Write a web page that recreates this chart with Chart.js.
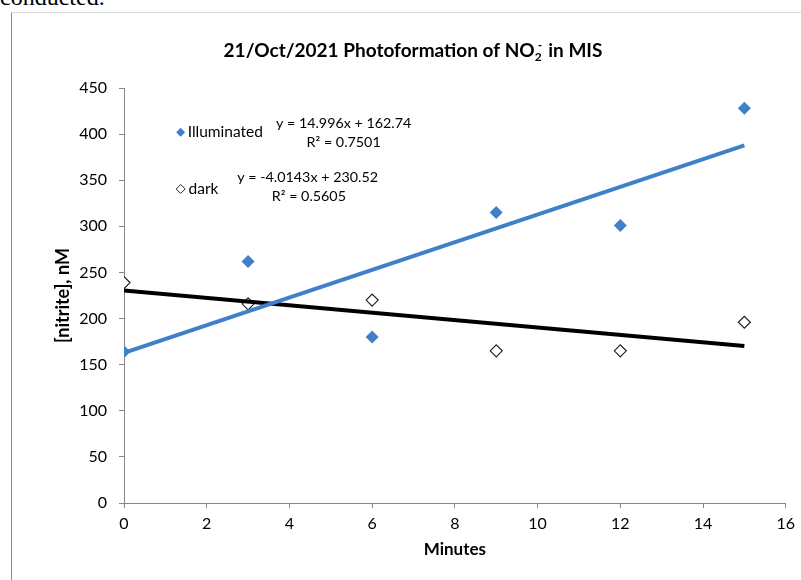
<!DOCTYPE html>
<html>
<head>
<meta charset="utf-8">
<script src="https://cdn.jsdelivr.net/npm/chart.js@4.4.0/dist/chart.umd.min.js"></script>
<style>
  html, body { margin: 0; padding: 0; background: #fff; overflow: hidden; }
  body { width: 801px; height: 580px; position: relative; }
  #above {
    position: absolute; left: 0; top: -15px;
    font: 24px/24px "Liberation Serif", "Times New Roman", serif; color: #000;
  }
  #frame {
    position: absolute; left: 11px; top: 12px; width: 820px; height: 600px;
    border-top: 1px solid #d9d9d9; border-left: 1px solid #8c8c8c;
  }
  #chart { position: absolute; left: 12px; top: 13px; }
</style>
</head>
<body>
<div id="above">conducted.</div>
<div id="frame"></div>
<canvas id="chart" width="789" height="567"></canvas>
<script>
// measured values
const minutes = [0, 3, 6, 9, 12, 15];
const illuminated = [164, 262, 180, 315, 301, 428];
const dark = [239, 216, 220, 165, 165, 196];

// linear trendline ends (Excel fit)
const trendX = [0, 15];
const illumTrend = [162.74, 387.68];
const darkTrend = [230.52, 170.30];

const xTicks = [0, 2, 4, 6, 8, 10, 12, 14, 16];
const yTicks = [0, 50, 100, 150, 200, 250, 300, 350, 400, 450];

const blue = '#4180c8';
const axisGrey = '#868686';
const FONT = 'Lato, "Open Sans", sans-serif';

const toPts = (xs, ys) => xs.map((x, i) => ({ x: x, y: ys[i] }));

// title, legend box and trendline labels, Excel style
const labelsPlugin = {
  id: 'labels',
  afterDraw(chart) {
    const ctx = chart.ctx;
    const sx = chart.scales.x, sy = chart.scales.y;
    const px = v => sx.getPixelForValue(v);
    const py = v => sy.getPixelForValue(v);
    ctx.save();
    ctx.fillStyle = '#000';

    // chart title with NO2- sub/superscript
    const main = '21/Oct/2021 Photoformation of NO';
    const tail = ' in MIS';
    ctx.font = 'bold 19px ' + FONT;
    const wMain = ctx.measureText(main).width;
    const wTail = ctx.measureText(tail).width;
    ctx.font = 'bold 12px ' + FONT;
    const wSub = ctx.measureText('2').width;
    const total = wMain + wSub + 2 + wTail;
    let tx = 401 - total / 2;
    const ty = 44;
    ctx.textBaseline = 'alphabetic';
    ctx.textAlign = 'left';
    ctx.font = 'bold 19px ' + FONT;
    ctx.fillText(main, tx, ty);
    tx += wMain;
    ctx.font = 'bold 12px ' + FONT;
    ctx.fillText('2', tx, ty + 4);
    ctx.fillText('-', tx + 3, ty - 8);
    tx += wSub + 2;
    ctx.font = 'bold 19px ' + FONT;
    ctx.fillText(tail, tx, ty);

    // legend entries
    ctx.font = '15.5px ' + FONT;
    ctx.textBaseline = 'middle';
    const diamond = (x, y, r, fill, stroke) => {
      ctx.beginPath();
      ctx.moveTo(x, y - r); ctx.lineTo(x + r, y); ctx.lineTo(x, y + r); ctx.lineTo(x - r, y);
      ctx.closePath();
      ctx.fillStyle = fill; ctx.fill();
      if (stroke) { ctx.strokeStyle = stroke; ctx.lineWidth = 1; ctx.stroke(); }
    };
    diamond(px(1.37), py(402), 4.5, blue);
    diamond(px(1.37), py(340.5), 4.5, '#fff', '#222');
    ctx.fillStyle = '#000';
    ctx.fillText('Illuminated', px(1.54), py(402));
    ctx.fillText('dark', px(1.56), py(340.5));

    // trendline equations
    ctx.font = '14.3px ' + FONT;
    ctx.textAlign = 'center';
    ctx.fillText('y = 14.996x + 162.74', px(5.31), py(412));
    ctx.fillText('R² = 0.7501', px(5.31), py(391.5));
    ctx.fillText('y = -4.0143x + 230.52', px(4.44), py(353.5));
    ctx.fillText('R² = 0.5605', px(4.47), py(333));
    ctx.restore();
  }
};

new Chart(document.getElementById('chart'), {
  type: 'scatter',
  data: {
    datasets: [
      {
        label: 'Linear (Illuminated)',
        data: toPts(trendX, illumTrend),
        showLine: true, borderColor: blue, borderWidth: 4,
        pointRadius: 0, order: 0
      },
      {
        label: 'Linear (dark)',
        data: toPts(trendX, darkTrend),
        showLine: true, borderColor: '#000', borderWidth: 4,
        pointRadius: 0, order: 0
      },
      {
        label: 'Illuminated',
        data: toPts(minutes, illuminated),
        pointStyle: 'rectRot', pointRadius: 6.5,
        backgroundColor: blue, borderColor: blue, borderWidth: 0, order: 1
      },
      {
        label: 'dark',
        data: toPts(minutes, dark),
        pointStyle: 'rectRot', pointRadius: 6,
        backgroundColor: '#fff', borderColor: '#222', borderWidth: 1.2, order: 1
      }
    ]
  },
  options: {
    responsive: false,
    animation: false,
    layout: { padding: { top: 75, right: 11, left: 0, bottom: 0 } },
    plugins: {
      legend: { display: false },
      tooltip: { enabled: false }
    },
    scales: {
      x: {
        type: 'linear', min: 0, max: 16,
        afterFit: s => { s.height = 77; },
        afterBuildTicks: s => { s.ticks = xTicks.map(v => ({ value: v })); },
        border: { display: true, color: axisGrey, width: 1 },
        grid: { drawOnChartArea: false, drawTicks: true, tickLength: 5, color: axisGrey },
        ticks: { color: '#000', padding: 6, font: { family: FONT, size: 16 } },
        title: {
          display: true, text: 'Minutes', color: '#000',
          font: { family: FONT, size: 17, weight: 'bold' },
          padding: { top: 0, bottom: 20 }
        }
      },
      y: {
        type: 'linear', min: 0, max: 450,
        afterFit: s => { s.width = 112; },
        afterBuildTicks: s => { s.ticks = yTicks.map(v => ({ value: v })); },
        border: { display: true, color: axisGrey, width: 1 },
        grid: { drawOnChartArea: false, drawTicks: true, tickLength: 5, color: axisGrey },
        ticks: { color: '#000', padding: 12, font: { family: FONT, size: 16 } },
        title: {
          display: true, text: '[nitrite], nM', color: '#000',
          font: { family: FONT, size: 18, weight: 'bold' },
          padding: { top: 40, bottom: 0 }
        }
      }
    }
  },
  plugins: [labelsPlugin]
});
</script>
</body>
</html>
